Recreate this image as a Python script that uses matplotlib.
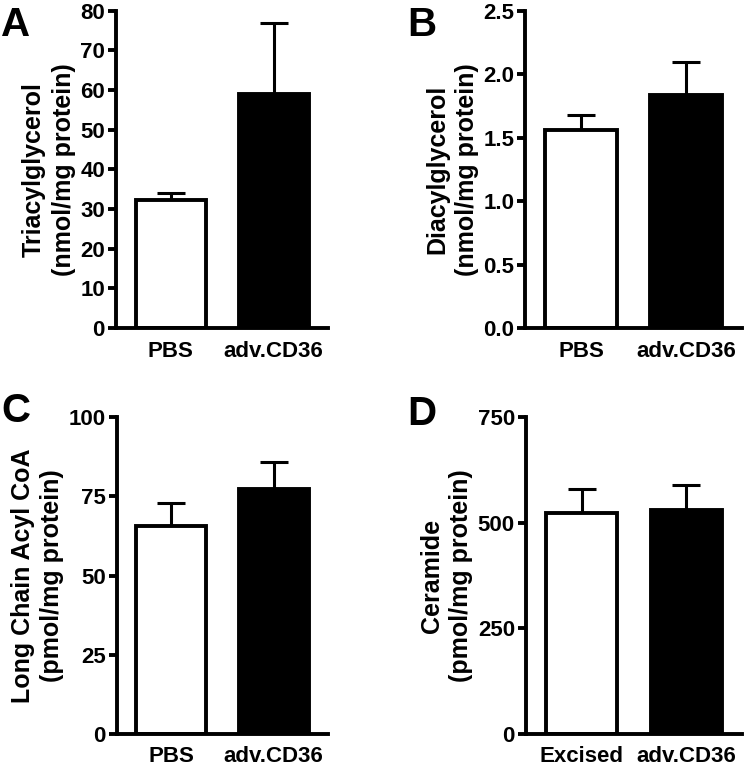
import matplotlib
matplotlib.use("Agg")
import matplotlib.pyplot as plt
import numpy as np

plt.rcParams['font.family'] = ['Liberation Sans', 'DejaVu Sans']
plt.rcParams['font.weight'] = 'bold'

# Data
groups_ab = ["PBS", "adv.CD36"]
groups_c = ["PBS", "adv.CD36"]
groups_d = ["Excised", "adv.CD36"]

tag_mean = [32.3, 59.0]
tag_sem = [1.7, 18.0]

dag_mean = [1.56, 1.84]
dag_sem = [0.12, 0.26]

lcacoa_mean = [65.8, 77.4]
lcacoa_sem = [7.2, 8.6]

cer_mean = [524, 530]
cer_sem = [56, 60]

panels = [
    ("A", groups_ab, tag_mean, tag_sem, "Triacylglycerol\n(nmol/mg protein)",
     [0, 10, 20, 30, 40, 50, 60, 70, 80], ["0", "10", "20", "30", "40", "50", "60", "70", "80"]),
    ("B", groups_ab, dag_mean, dag_sem, "Diacylglycerol\n(nmol/mg protein)",
     [0, 0.5, 1.0, 1.5, 2.0, 2.5], ["0.0", "0.5", "1.0", "1.5", "2.0", "2.5"]),
    ("C", groups_c, lcacoa_mean, lcacoa_sem, "Long Chain Acyl CoA\n(pmol/mg protein)",
     [0, 25, 50, 75, 100], ["0", "25", "50", "75", "100"]),
    ("D", groups_d, cer_mean, cer_sem, "Ceramide\n(pmol/mg protein)",
     [0, 250, 500, 750], ["0", "250", "500", "750"]),
]

# axes boxes in figure fractions [left, bottom, width, height]
boxes = [
    [0.156, 0.574, 0.285, 0.412],
    [0.706, 0.574, 0.291, 0.412],
    [0.157, 0.047, 0.284, 0.411],
    [0.707, 0.047, 0.290, 0.411],
]
# panel letter positions (figure fractions, top-left)
letter_pos = [(0.002, 0.992), (0.547, 0.992), (0.002, 0.491), (0.547, 0.487)]

fig = plt.figure(figsize=(7.44, 7.70), dpi=100)

for (letter, cats, means, sems, ylabel, ticks, ticklabels), box, lp in zip(panels, boxes, letter_pos):
    ax = fig.add_axes(box)
    x = np.arange(len(cats))
    ax.errorbar(x, means, yerr=[[0, 0], sems], fmt='none', ecolor='k',
                elinewidth=2.2, capsize=10, capthick=2.2, zorder=1)
    ax.bar(x, means, width=0.68, color=['white', 'black'], edgecolor='k',
           linewidth=2.8, zorder=2)

    ax.set_xlim(-0.53, 1.53)
    ax.set_ylim(ticks[0], ticks[-1])
    ax.set_yticks(ticks)
    ax.set_yticklabels(ticklabels, fontsize=16, fontweight='bold')
    ax.set_xticks(x)
    ax.set_xticklabels(cats, fontsize=16, fontweight='bold')
    ax.tick_params(axis='x', length=0, pad=9)
    ax.tick_params(axis='y', length=6, width=2.8, pad=2)

    for s in ['top', 'right']:
        ax.spines[s].set_visible(False)
    for s in ['left', 'bottom']:
        ax.spines[s].set_linewidth(2.8)
    ax.spines['left'].set_bounds(ticks[0], ticks[-1])

    ax.set_ylabel(ylabel, fontsize=18, fontweight='bold', linespacing=1.3, labelpad=3)

    fig.text(lp[0], lp[1], letter, fontsize=29, fontweight='bold', ha='left', va='top')

fig.savefig("out.png", dpi=100)
